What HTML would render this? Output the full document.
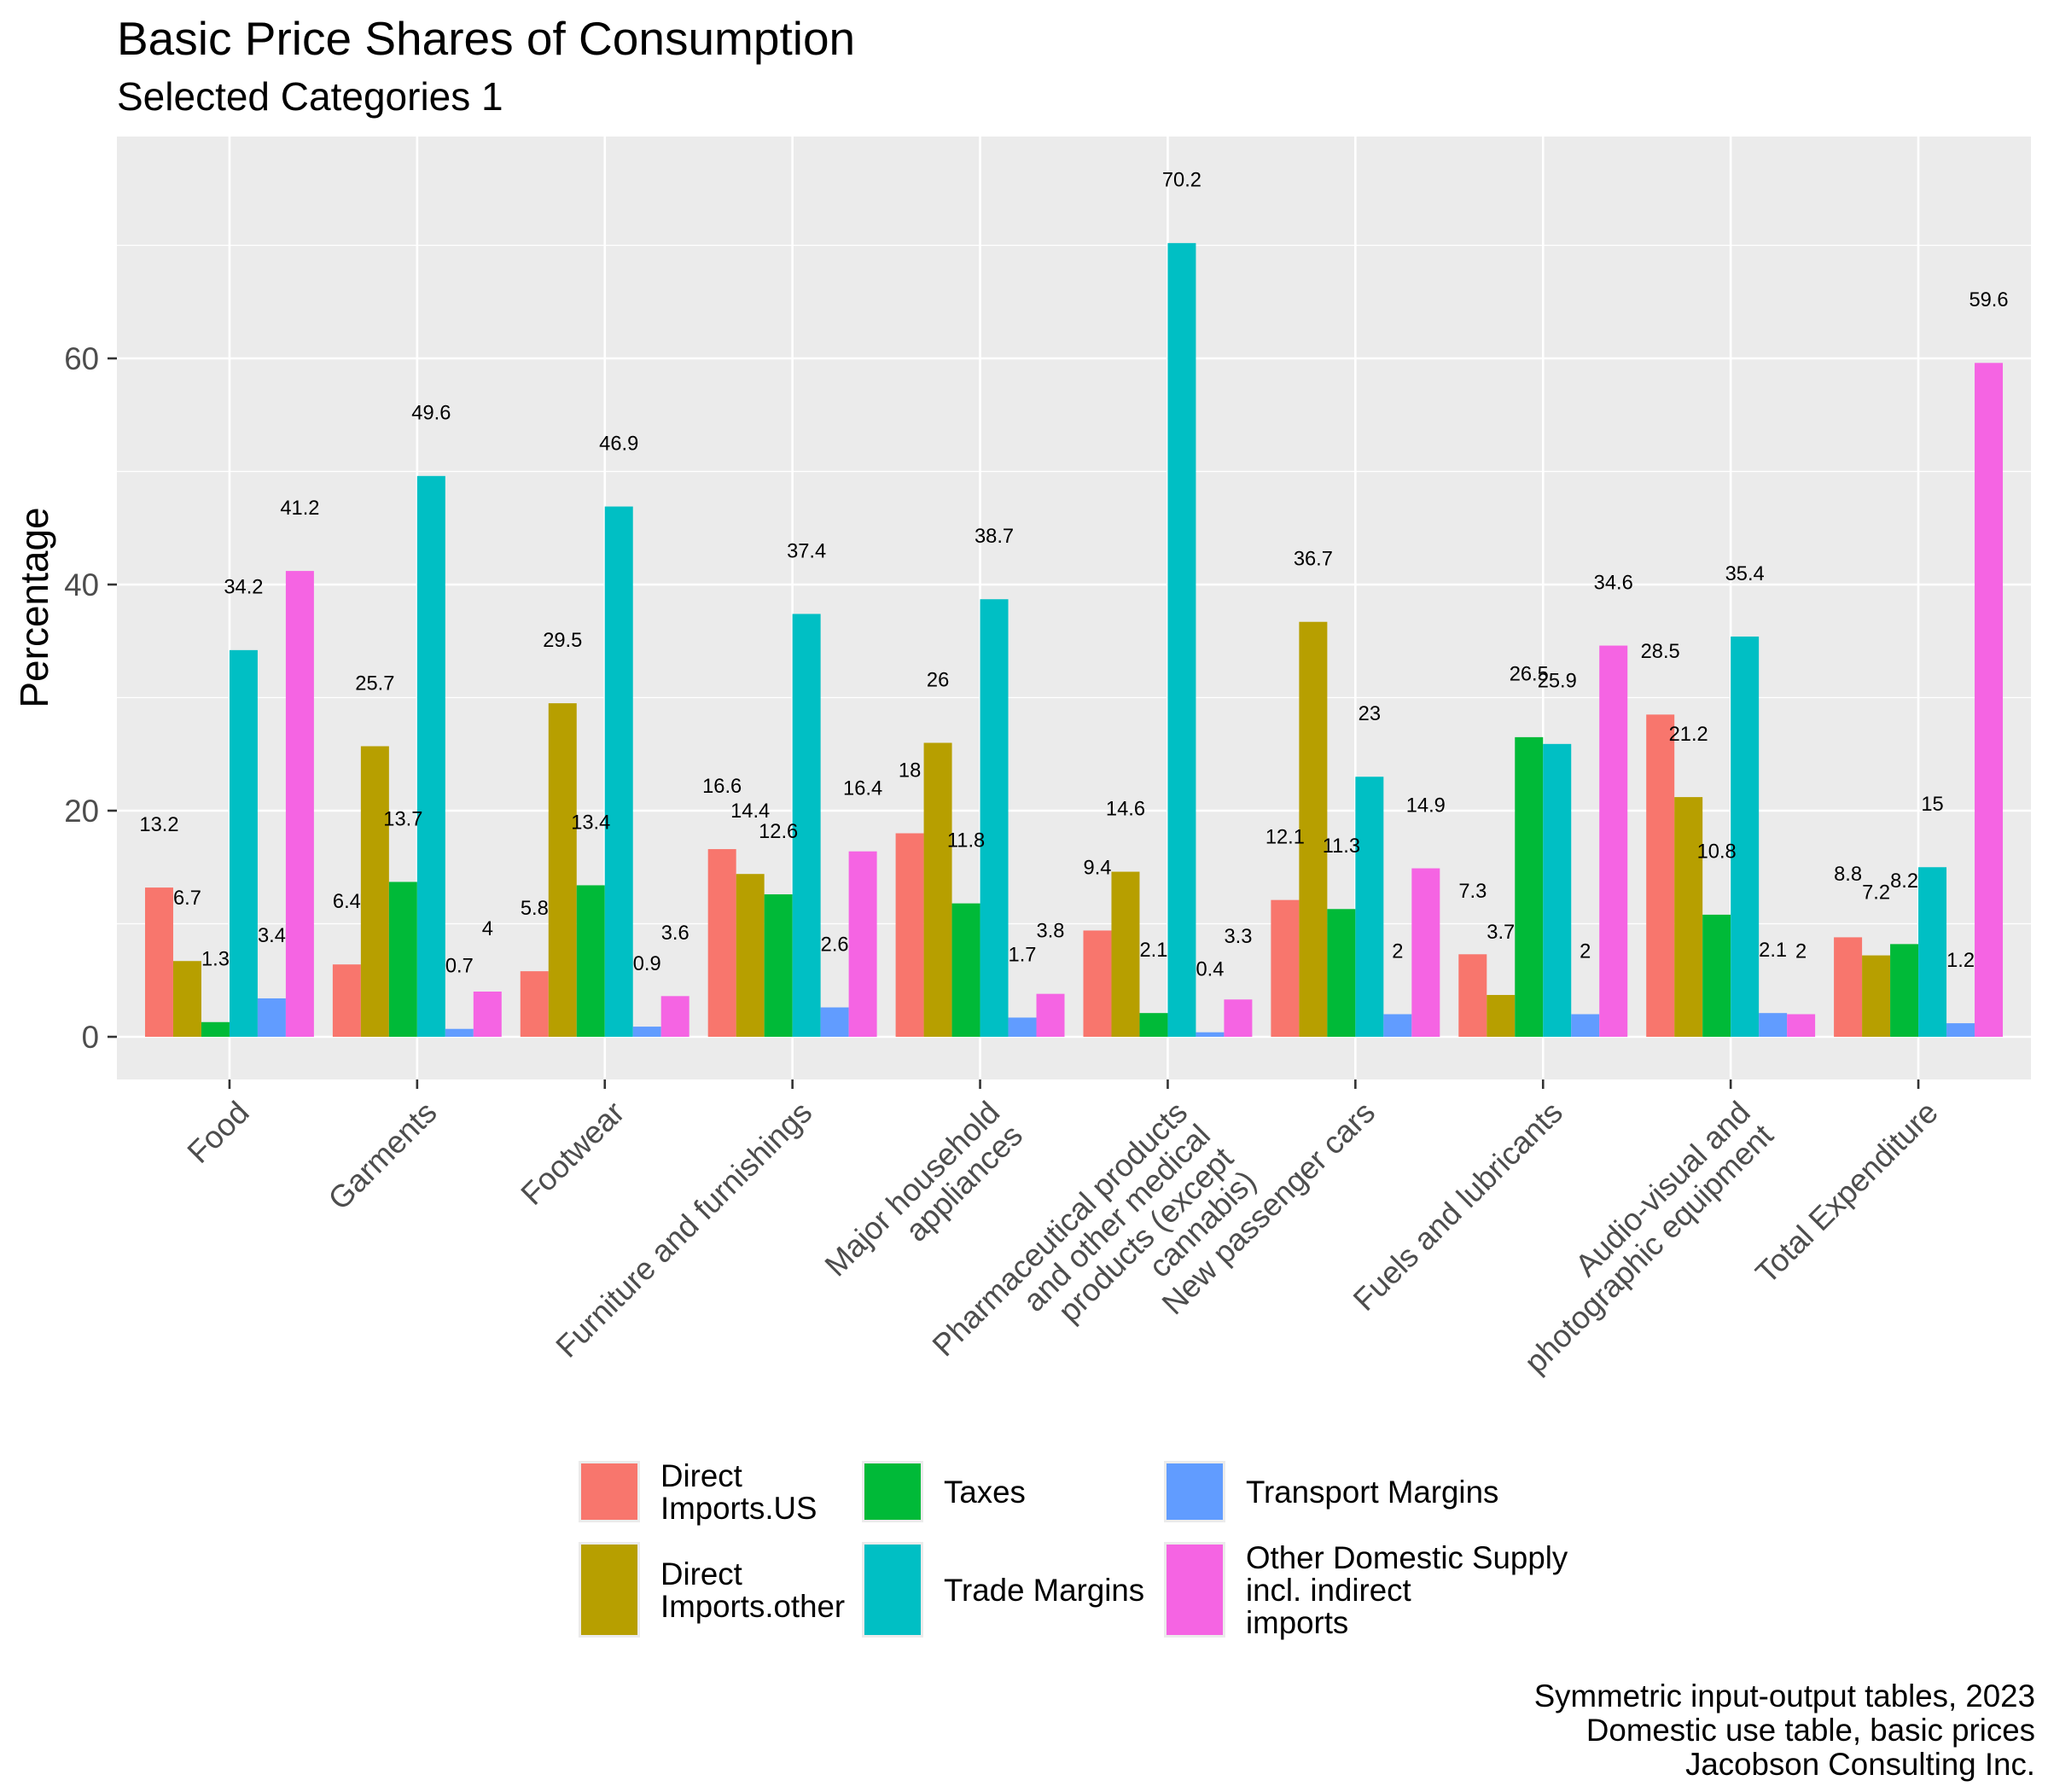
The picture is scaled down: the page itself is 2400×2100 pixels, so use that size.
<!DOCTYPE html>
<html><head><meta charset="utf-8">
<style>
html,body{margin:0;padding:0;background:#fff;}
svg{display:block;font-family:"Liberation Sans",Arial,sans-serif;}
</style></head>
<body>
<svg id="chart" width="2400" height="2100" viewBox="0 0 2400 2100" xmlns="http://www.w3.org/2000/svg">
  <rect width="2400" height="2100" fill="#fff"/>
  <text x="137" y="64" font-size="55" fill="#000">Basic Price Shares of Consumption</text>
  <text x="137" y="129" font-size="46" fill="#000">Selected Categories 1</text>
  <rect x="137" y="160" width="2243" height="1105" fill="#EBEBEB"/>
  <g id="grid"></g>
  <g id="bars"></g>
  <g id="labels"></g>
  <g id="yaxis"></g>
  <g id="xaxis"></g>
  <text transform="translate(56,712) rotate(-90)" text-anchor="middle" font-size="46" fill="#000">Percentage</text>
  <g id="legend"></g>
  <g font-size="36.7" fill="#000" text-anchor="end">
    <text x="2385" y="2000">Symmetric input-output tables, 2023</text>
    <text x="2385" y="2040">Domestic use table, basic prices </text>
    <text x="2385" y="2080">Jacobson Consulting Inc.</text>
  </g>
</svg>
<script>
const categories = [["Food"],["Garments"],["Footwear"],["Furniture and furnishings"],["Major household","appliances"],["Pharmaceutical products","and other medical","products (except","cannabis)"],["New passenger cars"],["Fuels and lubricants"],["Audio-visual and","photographic equipment"],["Total Expenditure"]];
const seriesNames = [["Direct","Imports.US"],["Direct","Imports.other"],["Taxes"],["Trade Margins"],["Transport Margins"],["Other Domestic Supply","incl. indirect","imports"]];
const directImportsUS = [13.2,6.4,5.8,16.6,18,9.4,12.1,7.3,28.5,8.8];
const directImportsOther = [6.7,25.7,29.5,14.4,26,14.6,36.7,3.7,21.2,7.2];
const taxes = [1.3,13.7,13.4,12.6,11.8,2.1,11.3,26.5,10.8,8.2];
const tradeMargins = [34.2,49.6,46.9,37.4,38.7,70.2,23,25.9,35.4,15];
const transportMargins = [3.4,0.7,0.9,2.6,1.7,0.4,2,2,2.1,1.2];
const otherDomestic = [41.2,4,3.6,16.4,3.8,3.3,14.9,34.6,2,59.6];
const yTicks = [0,20,40,60];
const yMinor = [10,30,50,70];

const series = [directImportsUS,directImportsOther,taxes,tradeMargins,transportMargins,otherDomestic];
const colors = ["#F8766D","#B79F00","#00BA38","#00BFC4","#619CFF","#F564E3"];
const NS = "http://www.w3.org/2000/svg";
const panelL = 137, panelR = 2380, panelT = 160, panelB = 1265;
const y0 = 1215, pxPerUnit = 13.25;
const yScale = v => y0 - v * pxPerUnit;
const step = (panelR - panelL) / (categories.length + 0.2);
const xScale = i => panelL + step * (0.6 + i);
const groupW = step * 0.9, barW = groupW / series.length;

function mk(tag, attrs, parent) {
  const e = document.createElementNS(NS, tag);
  for (const k in attrs) e.setAttribute(k, attrs[k]);
  parent.appendChild(e);
  return e;
}
const grid = document.getElementById('grid');
yMinor.forEach(v => {
  const l = mk('line', {x1: panelL, x2: panelR, y1: yScale(v), y2: yScale(v), stroke: '#fff', 'stroke-width': 1.3}, grid);
  
  
});
yTicks.forEach(v => {
  const l = mk('line', {x1: panelL, x2: panelR, y1: yScale(v), y2: yScale(v), stroke: '#fff', 'stroke-width': 2.6}, grid);
  
  
});
categories.forEach((c, i) => {
  const l = mk('line', {x1: xScale(i), x2: xScale(i), y1: panelT, y2: panelB, stroke: '#fff', 'stroke-width': 2.6}, grid);
  
  
});
const bars = document.getElementById('bars');
const labels = document.getElementById('labels');
series.forEach((s, si) => {
  s.forEach((v, i) => {
    const x = xScale(i) - groupW / 2 + si * barW;
    const r = mk('rect', {x: x, y: yScale(v), width: barW, height: y0 - yScale(v), fill: colors[si]}, bars);
    
    
    const t = mk('text', {x: x + barW / 2, y: yScale(v + 5.6) + 8, 'text-anchor': 'middle', 'font-size': 23.7, fill: '#000'}, labels);
    
    
    t.textContent = String(v);
  });
});
const yaxis = document.getElementById('yaxis');
yTicks.forEach(v => {
  const tk = mk('line', {x1: panelL - 11, x2: panelL, y1: yScale(v), y2: yScale(v), stroke: '#333', 'stroke-width': 2.6}, yaxis);
  
  
  const t = mk('text', {x: panelL - 21, y: yScale(v) + 13, 'text-anchor': 'end', 'font-size': 36.7, fill: '#4D4D4D'}, yaxis);
  
  
  t.textContent = String(v);
});
const xaxis = document.getElementById('xaxis');
categories.forEach((c, i) => {
  const x = xScale(i);
  const tk = mk('line', {x1: x, x2: x, y1: panelB, y2: panelB + 11, stroke: '#333', 'stroke-width': 2.6}, xaxis);
  
  
  const g = mk('g', {transform: `translate(${x + 6},${panelB + 22}) rotate(-45)`}, xaxis);
  
  
  c.forEach((line, li) => {
    const t = mk('text', {x: 0, y: 27 + li * 38, 'text-anchor': 'end', 'font-size': 36.7, fill: '#4D4D4D'}, g);
    t.textContent = line;
  });
});
const legend = document.getElementById('legend');
const legX = [678, 1010, 1364];
const legRows = [[1712, 1784], [1807, 1919]];
seriesNames.forEach((nm, si) => {
  const col = Math.floor(si / 2), row = si % 2;
  const [top, bot] = legRows[row];
  const g = mk('g', {}, legend);
  
  
  mk('rect', {x: legX[col], y: top, width: 72, height: bot - top, fill: '#EBEBEB'}, g);
  mk('rect', {x: legX[col] + 3, y: top + 3, width: 66, height: bot - top - 6, fill: colors[si]}, g);
  const cy = (top + bot) / 2;
  const n = nm.length;
  nm.forEach((line, li) => {
    const t = mk('text', {x: legX[col] + 96, y: cy + 13 + (li - (n - 1) / 2) * 38, 'font-size': 36.7, fill: '#000'}, g);
    t.textContent = line;
  });
});
</script>
</body></html>
